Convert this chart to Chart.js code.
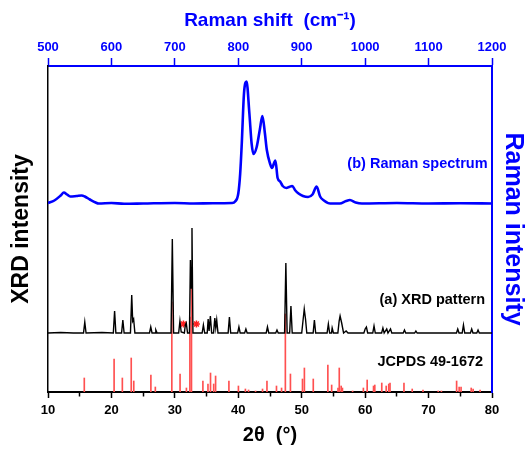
<!DOCTYPE html>
<html>
<head>
<meta charset="utf-8">
<script src="https://cdn.jsdelivr.net/npm/chart.js@4/dist/chart.umd.min.js"></script>
<style>
  html, body { margin: 0; padding: 0; background: #ffffff; }
  canvas { display: block; }
</style>
</head>
<body>
<canvas id="chart" width="528" height="450"></canvas>
<script>
// Raman spectrum (b): shift in cm-1, intensity above its own baseline (a.u.)
const ramanShift = [
    500, 510, 520, 525, 530, 535, 545, 553, 558, 566, 575, 580, 600, 620, 650, 700, 730, 760, 790,
    795, 800, 803, 805.5, 809, 813, 817.5, 821, 824, 829, 834, 838, 842, 845, 850, 853, 858.5,
    862, 866, 870, 876, 880, 885, 890, 895, 902, 910, 917, 923.5, 929, 935, 945, 960, 970, 976,
    985, 995, 1050, 1100, 1150, 1200
];
const ramanIntensity = [
    0.5, 3, 8, 11, 9, 7, 7.5, 8, 7, 4, 1, 0, 0.5, -0.3, 0, 0.5, 0, 0.3, 0.5,
    2, 10, 30, 60, 110, 122, 90, 60, 49.5, 56.5, 74, 87.5, 70, 53.5, 40, 35.5, 43,
    25.5, 22, 17.5, 15.5, 16.5, 17.5, 13, 10, 7.5, 6.5, 9, 17, 7, 3, 0, 0, 2.5, 3.5,
    1, 0, 0.5, 0, 0.3, 0
];

// XRD pattern (a): 2theta in degrees, intensity above its own baseline (a.u.)
const xrdAngle = [
    10, 12, 14, 15.6, 15.8, 16, 18.5, 20.3, 20.5, 20.7, 21.6, 21.8, 22, 23, 23.2, 23.35, 23.5, 23.7,
    26, 26.2, 26.4, 26.9, 27, 27.2, 29.4, 29.6, 29.8, 30.6, 30.8, 31, 31.5, 31.65, 31.8, 32,
    32.3, 32.45, 32.55, 32.7, 32.85, 33.3, 34.3, 34.5, 34.7, 35.1, 35.25, 35.4, 35.6, 35.8,
    36.1, 36.3, 36.45, 36.6, 36.8, 38.4, 38.6, 38.8, 39.9, 40.1, 40.3, 41, 41.2, 41.4,
    44.4, 44.6, 44.8, 45.9, 46.1, 46.3, 47.3, 47.5, 47.7, 48.1, 48.3, 48.5, 50, 50.2, 50.4, 50.6, 50.8,
    51.8, 52, 52.2, 54, 54.2, 54.4, 54.7, 54.8, 55, 55.7, 55.9, 56.05, 56.3, 56.6, 57, 57.3,
    59.8, 60, 60.2, 60.4, 61.2, 61.4, 61.6, 62.6, 62.8, 63, 63.4, 63.6, 64, 64.2, 66, 66.2, 66.4,
    67.8, 68, 68.2, 74.4, 74.6, 74.8, 75.3, 75.5, 75.7, 76.6, 76.8, 77, 77.6, 77.8, 78, 80
];
const xrdIntensity = [
    0, 0.5, 0, 0, 11, 0, 0.5, 0, 22, 0, 0, 13, 0, 0, 38, 12, 14, 0,
    0, 6, 0, 0, 3, 0, 0, 94, 0, 0, 12, 1, 0, 8, 10, 0,
    0, 73, 45, 105, 0, 0, 0, 8, 0, 0, 14, 2, 17, 0,
    0, 15, 5, 13, 0, 0, 16, 0, 0, 6, 0, 0, 4, 0,
    0, 6, 0, 0, 3, 0, 0, 70, 0, 0, 27, 0, 0, 12, 24, 14, 0,
    0, 13, 0, 0, 9, 0, 0, 5, 0, 0, 12, 17, 10, 0, 2, 0,
    0, 4, 6, 0, 0, 7, 0, 0, 5, 0, 4, 0, 4, 0, 0, 3, 0,
    0, 2, 0, 0, 4, 0, 0, 8, 0, 0, 4, 0, 0, 3, 0, 0
];

// Asterisk markers on the XRD pattern
const markAngle = [31.35, 33.4];
const markIntensity = [9, 9];

// JCPDS 49-1672 reference lines
const refAngle = [
    15.8, 20.5, 21.8, 23.2, 23.6, 26.3, 27, 29.6, 30.9, 31.9, 32.45, 32.7, 34.5, 35.3, 35.7, 36.2,
    36.5, 38.6, 40.1, 41.2, 41.7, 42.8, 43.9, 44.6, 46.1, 46.9, 47.5, 48.3, 50.2, 50.5, 51.9,
    54.2, 54.8, 55.8, 56, 56.3, 56.5, 58.1, 59.8, 60.4, 61.4, 61.6, 62.7, 63.4, 63.8, 64, 66.2,
    67.5, 69.2, 71.6, 72.1, 74.5, 74.9, 75.2, 76.8, 77.1, 78.2
];
const refIntensity = [
    14, 33, 14, 34, 11, 17, 5, 90, 18, 4, 75, 113, 11, 8, 19, 8,
    16, 11, 6, 3, 2, 1, 3, 11, 6, 4, 78, 18, 13, 24, 13,
    27, 7, 4, 24, 6, 4, 1, 4, 12, 6, 7, 9, 6, 8, 9, 9,
    3, 2, 1, 1, 11, 5, 5, 4, 3, 2
];

// Tick labels shown on the two x axes
const twoThetaLabels = [10, 20, 30, 40, 50, 60, 70, 80];
const ramanLabels = [500, 600, 700, 800, 900, 1000, 1100, 1200];

const FONT = '"Liberation Sans", Arial, Helvetica, sans-serif';
const BLUE = '#0000ff';
const BLACK = '#000000';
const RED = '#ff5050';

const toPoints = (xs, ys) => xs.map((x, i) => ({ x: x, y: ys[i] }));

// Series labels written inside the plot
const seriesLabels = {
    id: 'seriesLabels',
    afterDatasetsDraw(chart) {
        const { ctx, scales } = chart;
        const items = [
            { text: '(b) Raman spectrum', x: scales.x2.getPixelForValue(1193), y: scales.y2.getPixelForValue(40), color: BLUE },
            { text: '(a) XRD pattern', x: scales.x.getPixelForValue(78.9), y: scales.y.getPixelForValue(33), color: BLACK },
            { text: 'JCPDS 49-1672', x: scales.x.getPixelForValue(78.6), y: scales.yRef.getPixelForValue(30), color: BLACK }
        ];
        ctx.save();
        ctx.font = 'bold 14.5px ' + FONT;
        ctx.textAlign = 'right';
        ctx.textBaseline = 'middle';
        items.forEach(item => {
            ctx.fillStyle = item.color;
            ctx.fillText(item.text, item.x, item.y);
        });
        ctx.restore();
    }
};

// minor ticks drawn shorter by dashing the tick line
const minorDash = (labels, longLen, shortLen, fromOuter) => ({
    tickBorderDash: (c) => labels.includes(c.tick && c.tick.value) ? [] : [shortLen, 200],
    tickBorderDashOffset: (c) => (labels.includes(c.tick && c.tick.value) || !fromOuter) ? 0 : 200 + shortLen - longLen
});

const ctx = document.getElementById('chart').getContext('2d');

new Chart(ctx, {
    type: 'bar',
    data: {
        datasets: [
            {
                type: 'line',
                label: 'XRD pattern',
                data: toPoints(xrdAngle, xrdIntensity),
                xAxisID: 'x',
                yAxisID: 'y',
                borderColor: BLACK,
                borderWidth: 1.4,
                pointRadius: 0,
                tension: 0,
                order: 0
            },
            {
                type: 'line',
                label: 'markers',
                data: toPoints(markAngle, markIntensity),
                xAxisID: 'x',
                yAxisID: 'y',
                showLine: false,
                pointStyle: 'star',
                pointRadius: 3.5,
                borderColor: '#ff2020',
                borderWidth: 1.5,
                order: 0
            },
            {
                type: 'line',
                label: 'Raman spectrum',
                data: toPoints(ramanShift, ramanIntensity),
                xAxisID: 'x2',
                yAxisID: 'y2',
                borderColor: BLUE,
                borderWidth: 2.6,
                pointRadius: 0,
                cubicInterpolationMode: 'monotone',
                order: 1
            },
            {
                type: 'bar',
                label: 'JCPDS 49-1672',
                data: toPoints(refAngle, refIntensity),
                xAxisID: 'x',
                yAxisID: 'yRef',
                backgroundColor: RED,
                barThickness: 1,
                order: 2
            }
        ]
    },
    options: {
        responsive: false,
        animation: false,
        devicePixelRatio: 1,
        layout: { padding: 0 },
        plugins: {
            legend: { display: false },
            tooltip: { enabled: false }
        },
        scales: {
            x: {
                type: 'linear',
                position: 'bottom',
                offset: false,
                min: 10,
                max: 80,
                afterFit: (scale) => { scale.height = 58; },
                ticks: {
                    stepSize: 5,
                    padding: 5,
                    color: BLACK,
                    font: { family: FONT, size: 13, weight: 'bold' },
                    maxRotation: 0,
                    autoSkip: false,
                    callback: (v) => twoThetaLabels.includes(v) ? String(v) : ''
                },
                grid: {
                    offset: false,
                    drawOnChartArea: false,
                    drawTicks: true,
                    tickLength: 6,
                    tickColor: BLACK,
                    tickWidth: 1.5,
                    ...minorDash(twoThetaLabels, 6, 3.5, false)
                },
                border: { color: BLACK, width: 2 },
                title: {
                    display: true,
                    text: '2\u03b8  (\u00b0)',
                    color: BLACK,
                    font: { family: FONT, size: 20, weight: 'bold' },
                    padding: { top: 0, bottom: 3 }
                }
            },
            x2: {
                type: 'linear',
                position: 'top',
                offset: false,
                min: 500,
                max: 1200,
                afterFit: (scale) => { scale.height = 66; },
                ticks: {
                    stepSize: 50,
                    padding: 3,
                    color: BLUE,
                    font: { family: FONT, size: 13, weight: 'bold' },
                    maxRotation: 0,
                    autoSkip: false,
                    callback: (v) => ramanLabels.includes(v) ? String(v) : ''
                },
                grid: {
                    offset: false,
                    drawOnChartArea: false,
                    drawTicks: true,
                    tickLength: 8,
                    tickColor: BLUE,
                    tickWidth: 1.5,
                    ...minorDash(ramanLabels, 8, 4, true)
                },
                border: { color: BLUE, width: 2 },
                title: {
                    display: true,
                    text: 'Raman shift  (cm\u207b\u00b9)',
                    color: BLUE,
                    font: { family: FONT, size: 19, weight: 'bold' },
                    padding: { top: 9, bottom: 0 }
                }
            },
            y: {
                type: 'linear',
                position: 'left',
                min: -59,
                max: 267,
                afterFit: (scale) => { scale.width = 48; },
                ticks: { display: false },
                grid: { display: false },
                border: { color: BLACK, width: 1.5 },
                title: {
                    display: true,
                    text: 'XRD intensity',
                    color: BLACK,
                    font: { family: FONT, size: 23, weight: 'bold' },
                    padding: { top: 8, bottom: 0 }
                }
            },
            y2: {
                type: 'linear',
                position: 'right',
                min: -188.5,
                max: 137.5,
                afterFit: (scale) => { scale.width = 36; },
                ticks: { display: false },
                grid: { display: false },
                border: { color: BLUE, width: 2 },
                title: {
                    display: true,
                    text: 'Raman intensity',
                    color: BLUE,
                    font: { family: FONT, size: 25, weight: 'bold' },
                    padding: { top: 0, bottom: 0 }
                }
            },
            yRef: {
                type: 'linear',
                display: false,
                min: 0,
                max: 326
            }
        }
    },
    plugins: [seriesLabels]
});
</script>
</body>
</html>
